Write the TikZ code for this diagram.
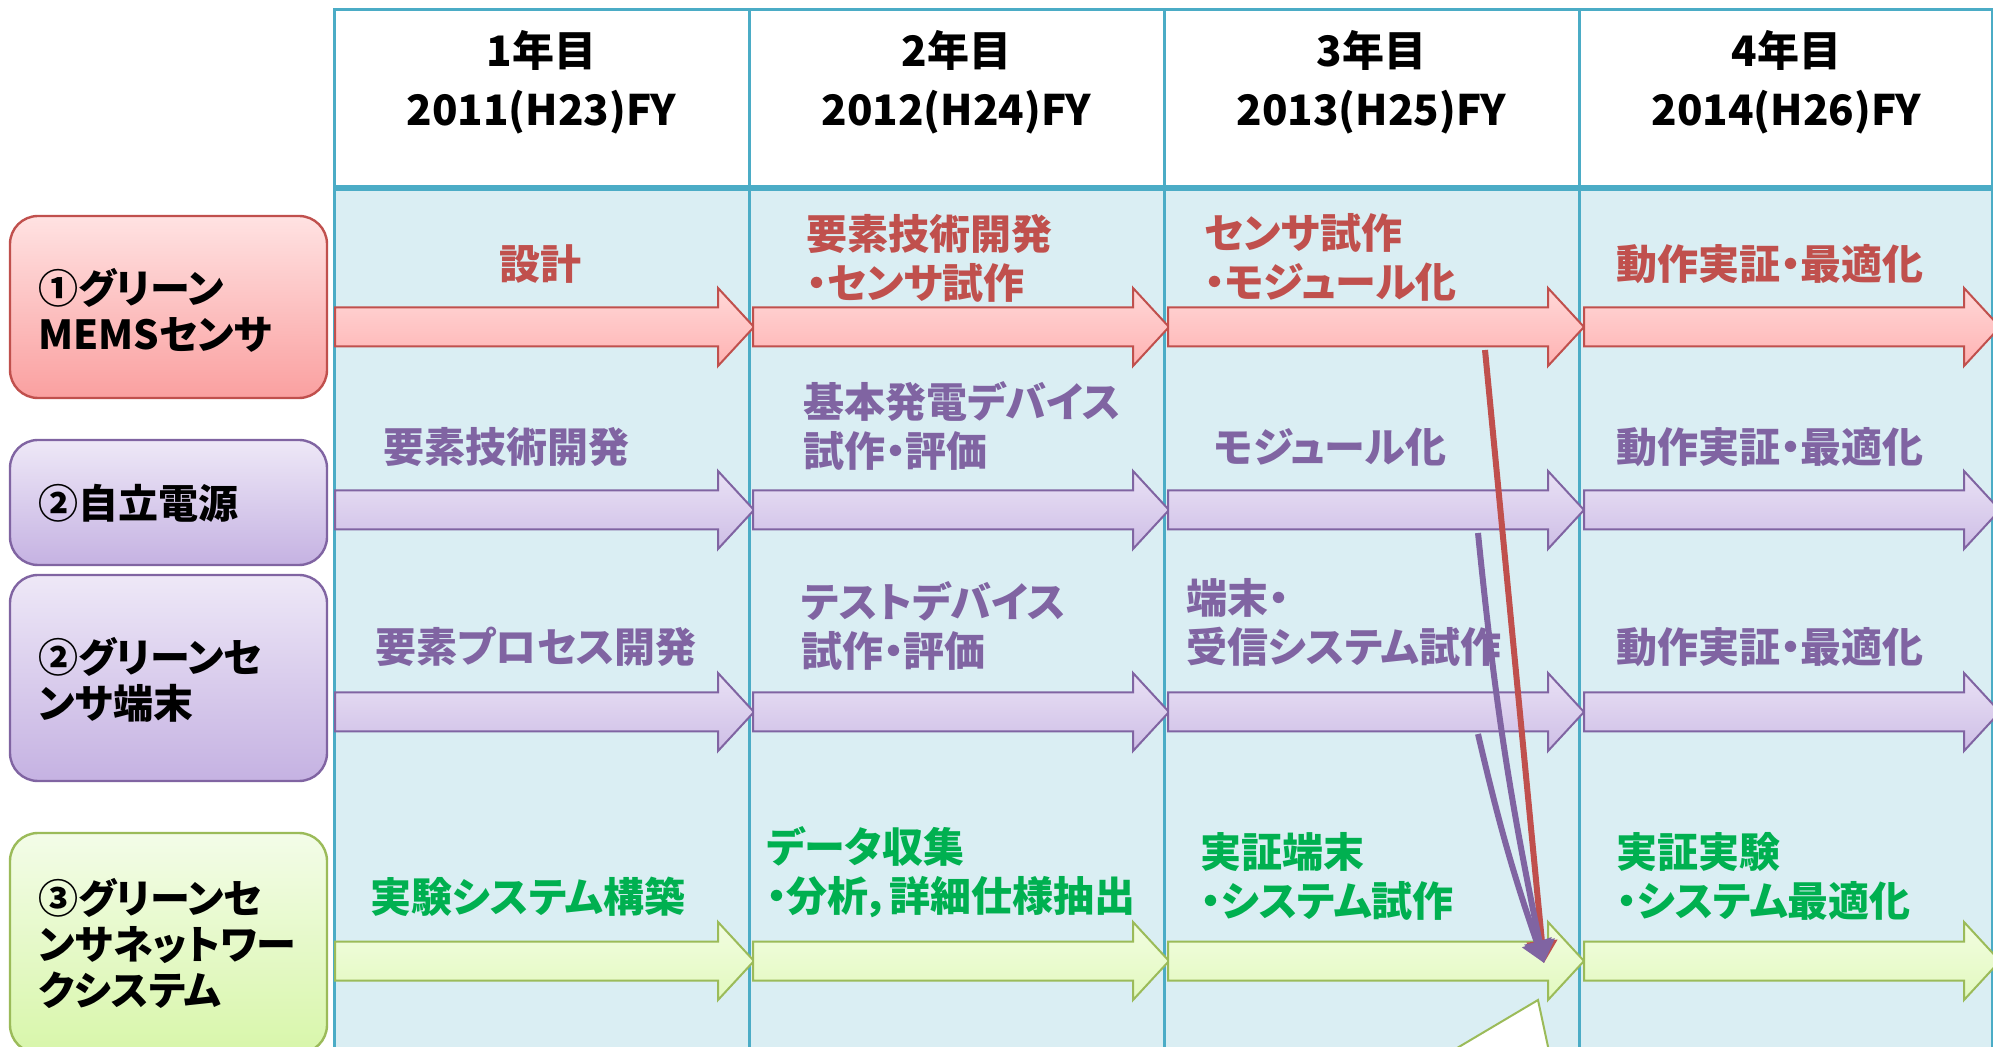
\documentclass[tikz,border=0pt]{standalone}
\usepackage{fontspec}
\setmainfont{Noto Sans CJK JP}[RawFeature=+palt]
\usetikzlibrary{arrows.meta}
\definecolor{tbl}{RGB}{75,172,198}
\definecolor{bodyfill}{RGB}{218,238,243}
\definecolor{redline}{RGB}{192,80,77}
\definecolor{redtop}{RGB}{255,226,226}
\definecolor{redbot}{RGB}{250,160,160}
\definecolor{redat}{RGB}{255,216,216}
\definecolor{redab}{RGB}{255,178,178}
\definecolor{purline}{RGB}{128,100,162}
\definecolor{purtop}{RGB}{238,232,247}
\definecolor{purbot}{RGB}{197,178,226}
\definecolor{purat}{RGB}{233,225,245}
\definecolor{purab}{RGB}{206,190,230}
\definecolor{grnline}{RGB}{155,187,89}
\definecolor{grntop}{RGB}{243,252,232}
\definecolor{grnbot}{RGB}{216,246,170}
\definecolor{grnat}{RGB}{242,253,225}
\definecolor{grnab}{RGB}{226,249,190}
\definecolor{grntext}{RGB}{0,176,80}
\newcommand\flowarrow[4]{%
  \path[#1,shift={(#2,#4)}] (0,-19.5) -- ({#3-#2-36},-19.5) -- ({#3-#2-36},-39) -- ({#3-#2},0)
    -- ({#3-#2-36},39) -- ({#3-#2-36},19.5) -- (0,19.5) -- cycle;}
\begin{document}
\begin{tikzpicture}[x=0.5pt,y=-0.5pt,
  tline/.style={draw=tbl,line width=1.5pt},
  hdr/.style={align=center,inner sep=0pt,font=\fontsize{21}{29.5}\selectfont\bfseries},
  lbox/.style={rounded corners=14pt,line width=1.2pt,minimum width=158.5pt,inner sep=0pt},
  redbox/.style={lbox,draw=redline,top color=redtop,bottom color=redbot},
  purbox/.style={lbox,draw=purline,top color=purtop,bottom color=purbot},
  grnbox/.style={lbox,draw=grnline,top color=grntop,bottom color=grnbot},
  btxt/.style={anchor=west,align=left,inner sep=0pt,font=\fontsize{20}{23}\selectfont\bfseries},
  lab/.style={anchor=west,align=left,inner sep=0pt,font=\fontsize{20.5}{24.5}\selectfont\bfseries},
  redlab/.style={lab,text=redline},
  purlab/.style={lab,text=purline},
  grnlab/.style={lab,text=grntext},
  redarr/.style={draw=redline,line width=1pt,top color=redat,bottom color=redab},
  purarr/.style={draw=purline,line width=1pt,top color=purat,bottom color=purab},
  grnarr/.style={draw=grnline,line width=1pt,top color=grnat,bottom color=grnab},
  conn/.style={line width=3pt,-{Triangle[length=11pt,width=15pt]}}
]
\useasboundingbox (0,0) rectangle (1993,1047);
\clip (0,0) rectangle (1993,1047);
% table
\fill[white] (334,10) rectangle (1992,188);
\fill[bodyfill] (334,188) rectangle (1992,1070);
\draw[tline] (334,1070) -- (334,10) -- (1992,10) -- (1992,1070);
\foreach \x in {749,1164,1579} \draw[tline] (\x,10) -- (\x,1070);
\draw[draw=tbl,line width=3pt] (334,188) -- (1992,188);
% headers
\node[hdr] (h1) at (541.5,82.5) {1年目\\2011(H23)FY};
\node[hdr] (h2) at (956.5,82.5) {2年目\\2012(H24)FY};
\node[hdr] (h3) at (1371.5,82.5) {3年目\\2013(H25)FY};
\node[hdr] (h4) at (1786.5,82.5) {4年目\\2014(H26)FY};
% left boxes
\node[redbox,minimum height=91pt] (b1) at (168.5,307) {};
\node[purbox,minimum height=62.5pt] (b2) at (168.5,502.5) {};
\node[purbox,minimum height=103pt] (b3) at (168.5,678) {};
\node[grnbox,minimum height=110pt] (b4) at (168.5,943) {};
\node[btxt] (t1) at (38,310) {①グリーン\\MEMSセンサ};
\node[btxt] (t2) at (38,503) {②自立電源};
\node[btxt] (t3) at (38,680) {②グリーンセ\\ンサ端末};
\node[btxt] (t4) at (38,943) {③グリーンセ\\ンサネットワー\\クシステム};
% arrows
\foreach \y/\s in {327/redarr,510/purarr,712/purarr,961/grnarr}{
  \flowarrow{\s}{335}{754}{\y}
  \flowarrow{\s}{753}{1169}{\y}
  \flowarrow{\s}{1168}{1584}{\y}
  \flowarrow{\s}{1584}{2000}{\y}
}
% labels row 1
\node[redlab,anchor=center] (l11) at (540,264) {設計};
\node[redlab] (l12) at (806,258) {要素技術開発\\・センサ試作};
\node[redlab] (l13) at (1204,257) {センサ試作\\・モジュール化};
\node[redlab] (l14) at (1616,264) {動作実証・最適化};
% row 2
\node[purlab] (l21) at (383,447) {要素技術開発};
\node[purlab] (l22) at (803,426) {基本発電デバイス\\試作・評価};
\node[purlab] (l23) at (1214,447) {モジュール化};
\node[purlab] (l24) at (1616,447) {動作実証・最適化};
% row 3
\node[purlab] (l31) at (375,647) {要素プロセス開発};
\node[purlab] (l32) at (801,626) {テストデバイス\\試作・評価};
\node[purlab] (l33) at (1186,622) {端末・\\受信システム試作};
\node[purlab] (l34) at (1616,647) {動作実証・最適化};
% row 4
\node[grnlab] (l41) at (370,897) {実験システム構築};
\node[grnlab] (l42) at (766,872) {データ収集\\・分析，詳細仕様抽出};
\node[grnlab] (l43) at (1200,876) {実証端末\\・システム試作};
\node[grnlab] (l44) at (1616,876) {実証実験\\・システム最適化};
% callout fragment
\filldraw[fill=white,draw=grnline,line width=1pt] (1420,1070) -- (1538,1000) -- (1553,1070) -- cycle;
% connectors
\coordinate (rs) at (1485,350);
\coordinate (p1s) at (1478,533);
\coordinate (p2s) at (1478,734);
\coordinate (tgt) at (1544,963);
\draw[conn,redline] (rs) -- (tgt);
\draw[conn,purline] (p1s) to[bend right=3] (tgt);
\draw[conn,purline] (p2s) to[bend right=3] (tgt);
\end{tikzpicture}
\end{document}
